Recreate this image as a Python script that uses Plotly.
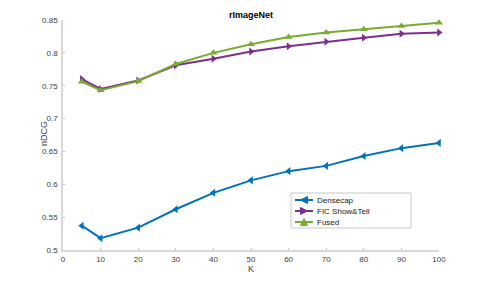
import plotly.graph_objects as go

K = [5, 10, 20, 30, 40, 50, 60, 70, 80, 90, 100]
densecap = [0.537, 0.518, 0.534, 0.562, 0.587, 0.606, 0.620, 0.628, 0.643, 0.655, 0.663]
fic = [0.760, 0.745, 0.758, 0.781, 0.791, 0.802, 0.810, 0.817, 0.823, 0.829, 0.831]
fused = [0.756, 0.743, 0.757, 0.783, 0.800, 0.813, 0.824, 0.831, 0.836, 0.841, 0.846]
x_ticks = [0, 10, 20, 30, 40, 50, 60, 70, 80, 90, 100]
y_ticks = [0.5, 0.55, 0.6, 0.65, 0.7, 0.75, 0.8, 0.85]
y_labels = ["0.5", "0.55", "0.6", "0.65", "0.7", "0.75", "0.8", "0.85"]
names = ["Densecap", "FIC Show&Tell", "Fused"]
colors = ["#0072BD", "#7E2F8E", "#77AC30"]
symbols = ["triangle-left", "triangle-right", "triangle-up"]

W, H = 485, 282
L, R, T, B = 63, 46, 20, 32
PW, PH = W - L - R, H - T - B
FONT = "Liberation Sans, Arial, sans-serif"

def px(xp):
    return (xp - L) / PW

def py(yp):
    return (H - B - yp) / PH

fig = go.Figure()
for name, ys, col, sym in zip(names, [densecap, fic, fused], colors, symbols):
    fig.add_trace(go.Scatter(
        x=K, y=ys, name=name, mode="lines+markers",
        line=dict(color=col, width=2),
        marker=dict(symbol=sym, size=7, color=col),
        showlegend=False, cliponaxis=False,
    ))

axis_common = dict(
    showgrid=False, zeroline=False, showline=True, linecolor="#d9d9d9", linewidth=1.5,
    ticks="inside", ticklen=2, tickcolor="#c8c8c8", automargin=False,
    tickfont=dict(family=FONT, size=8, color="#404040"),
)
fig.update_xaxes(range=[0, 100], tickvals=x_ticks, ticklabelstandoff=1, **axis_common)
fig.update_yaxes(range=[0.5, 0.85], tickvals=y_ticks, ticktext=y_labels, ticklabelstandoff=2,
                 **axis_common)

shapes = []
annotations = []
# axis titles
annotations.append(dict(x=px(251), y=py(269), xref="paper", yref="paper", text="K",
                        showarrow=False, xanchor="center", yanchor="middle",
                        font=dict(family=FONT, size=9, color="#404040")))
annotations.append(dict(x=px(44), y=py(134), xref="paper", yref="paper", text="nDCG",
                        showarrow=False, xanchor="center", yanchor="middle", textangle=-90,
                        font=dict(family=FONT, size=9, color="#404040")))

# Custom compact legend (MATLAB style)
box = (291, 193, 411, 228)
shapes.append(dict(type="rect", xref="paper", yref="paper",
                   x0=px(box[0]), x1=px(box[2]), y0=py(box[3]), y1=py(box[1]),
                   line=dict(color="#c8c8c8", width=1), fillcolor="white", layer="above"))
rows = [200, 211, 222]
for name, col, sym, ry in zip(names, colors, symbols, rows):
    shapes.append(dict(type="line", xref="paper", yref="paper",
                       x0=px(295), x1=px(313), y0=py(ry), y1=py(ry),
                       line=dict(color=col, width=2), layer="above"))
    cx, cy, s = 304, ry, 3.5
    if sym == "triangle-left":
        pts = [(cx - s, cy), (cx + s, cy - s), (cx + s, cy + s)]
    elif sym == "triangle-right":
        pts = [(cx + s, cy), (cx - s, cy - s), (cx - s, cy + s)]
    else:
        pts = [(cx, cy - s), (cx - s, cy + s), (cx + s, cy + s)]
    path = "M " + " L ".join(f"{px(a):.5f},{py(b):.5f}" for a, b in pts) + " Z"
    shapes.append(dict(type="path", xref="paper", yref="paper", path=path,
                       fillcolor=col, line=dict(color=col, width=1), layer="above"))
    annotations.append(dict(x=px(315), y=py(ry), xref="paper", yref="paper",
                            text=name, showarrow=False, xanchor="left", yanchor="middle",
                            font=dict(family=FONT, size=8, color="#202020")))

fig.update_layout(
    width=W, height=H,
    margin=dict(l=L, r=R, t=T, b=B),
    paper_bgcolor="white", plot_bgcolor="white",
    title=dict(text="<b>rImageNet</b>", x=0.5, xanchor="center", xref="paper",
               y=1 - 14.5 / H, yref="container", yanchor="middle",
               font=dict(family=FONT, size=9, color="black")),
    shapes=shapes, annotations=annotations,
    showlegend=False,
)

fig.write_html("out.html", config={"displayModeBar": False},
               post_script="document.body.style.margin='0';document.body.style.padding='0';document.documentElement.style.overflow='hidden';")
